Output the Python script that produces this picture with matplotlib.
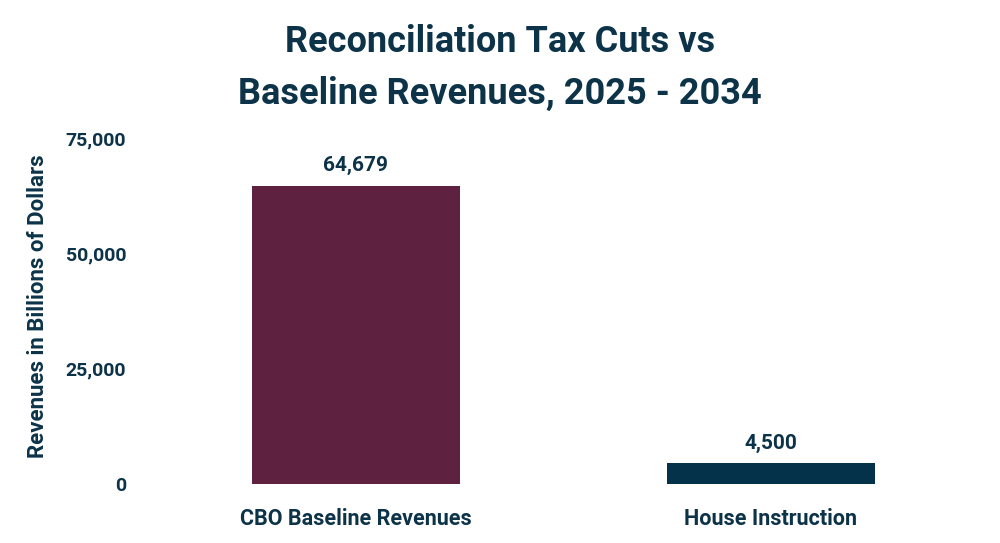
import matplotlib
matplotlib.use("Agg")
import matplotlib.pyplot as plt
from matplotlib.ticker import FuncFormatter

# ── Data ──
categories = ["CBO Baseline Revenues", "House Instruction"]
values = [64679, 4500]
bar_colors = ["#5f2140", "#04324a"]
yticks = [0, 25000, 50000, 75000]

TEXT = "#0d3349"
plt.rcParams["font.family"] = ["Roboto", "DejaVu Sans"]
plt.rcParams["font.weight"] = "bold"

fig = plt.figure(figsize=(10, 5.43), dpi=100)
ax = fig.add_axes([0.1485, 0.1087, 0.83, 0.6372])

x = range(len(categories))
bars = ax.bar(x, values, width=0.5, color=bar_colors)
for bar, val in zip(bars, values):
    ax.text(bar.get_x() + bar.get_width() / 2, val + 2300, f"{val:,}",
            ha="center", va="bottom", fontsize=15, fontweight="bold", color=TEXT)

ax.set_xlim(-0.5, 1.5)
ax.set_ylim(0, 75000)
ax.set_yticks(yticks)
ax.yaxis.set_major_formatter(FuncFormatter(lambda v, p: f"{int(v):,}"))
ax.set_xticks(list(x))
ax.set_xticklabels(categories)
ax.tick_params(axis="y", length=0, labelsize=14, labelcolor=TEXT, pad=16)
ax.tick_params(axis="x", length=0, labelsize=15.5, labelcolor=TEXT, pad=17)
for s in ax.spines.values():
    s.set_visible(False)

ax.set_ylabel("Revenues in Billions of Dollars", fontsize=16, fontweight="bold", color=TEXT)
ax.yaxis.set_label_coords(-0.12, 0.515)

fig.text(0.5, 0.955, "Reconciliation Tax Cuts vs\nBaseline Revenues, 2025 - 2034",
         ha="center", va="top", fontsize=26, fontweight="bold", color=TEXT, linespacing=1.55)

plt.savefig("out.png", dpi=100)
